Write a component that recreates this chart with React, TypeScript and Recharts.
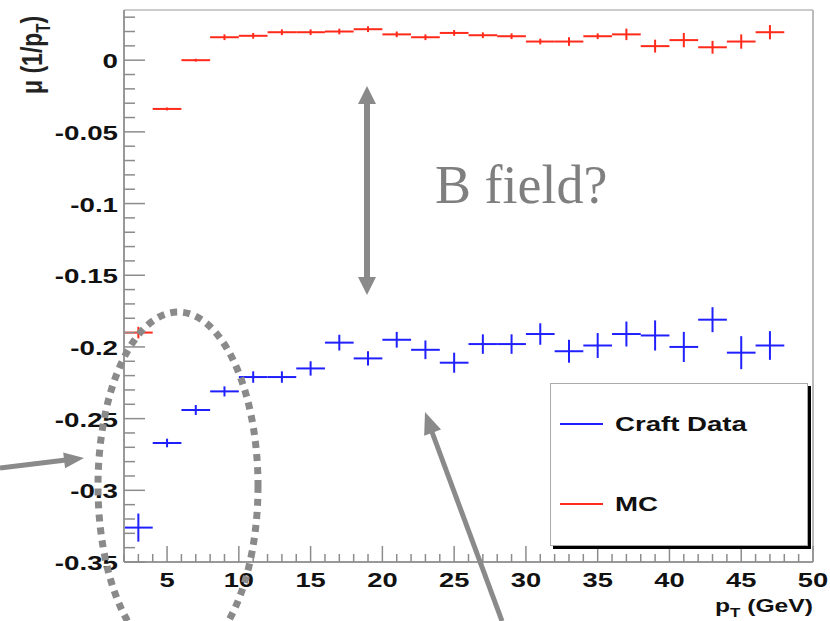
import React from "react";
import {
  ScatterChart,
  Scatter,
  XAxis,
  YAxis,
  ErrorBar,
  Legend,
  ReferenceLine
} from "recharts";

// bin centres in pT (GeV), each bin is 2 GeV wide
const ptBins = [3, 5, 7, 9, 11, 13, 15, 17, 19, 21, 23, 25, 27, 29, 31, 33, 35, 37, 39, 41, 43, 45, 47];
const binHalfWidth = 1;

const craftMu = [
  -0.326, -0.267, -0.244, -0.231, -0.221, -0.221, -0.215, -0.197, -0.208, -0.195, -0.202, -0.211,
  -0.198, -0.198, -0.191, -0.203, -0.199, -0.191, -0.192, -0.2, -0.181, -0.204, -0.199
];
const craftErr = [
  0.0098, 0.003, 0.0035, 0.0035, 0.004, 0.004, 0.005, 0.0055, 0.005, 0.0055, 0.0065, 0.007,
  0.0068, 0.0068, 0.0075, 0.008, 0.0087, 0.0087, 0.0105, 0.0105, 0.0087, 0.0115, 0.01
];

const mcMu = [
  -0.19, -0.034, 0.0, 0.016, 0.017, 0.0195, 0.0195, 0.02, 0.0216, 0.018, 0.016, 0.019,
  0.0174, 0.0167, 0.013, 0.013, 0.0167, 0.018, 0.0098, 0.014, 0.009, 0.013, 0.0195
];
const mcErr = [
  0.004, 0.001, 0.001, 0.002, 0.002, 0.002, 0.002, 0.002, 0.002, 0.002, 0.002, 0.002,
  0.002, 0.002, 0.002, 0.003, 0.002, 0.004, 0.0045, 0.005, 0.0045, 0.005, 0.005
];

const yMajorTicks = [-0.35, -0.3, -0.25, -0.2, -0.15, -0.1, -0.05, 0];
const yMajorLabels = ["-0.35", "-0.3", "-0.25", "-0.2", "-0.15", "-0.1", "-0.05", "0"];
const xMajorTicks = [5, 10, 15, 20, 25, 30, 35, 40, 45, 50];
const xMajorLabels = ["5", "10", "15", "20", "25", "30", "35", "40", "45", "50"];

const yDomain = [-0.35, 0.035];
const xDomain = [2, 50];

// minor ticks: every 0.01 on y, every 1 GeV on x
const yTicks = Array.from({ length: 39 }, (_, i) => (i - 35) / 100);
const xTicks = Array.from({ length: 49 }, (_, i) => i + 2);

const craftData = ptBins.map((pt, i) => ({ pt, mu: craftMu[i], ex: binHalfWidth, ey: craftErr[i] }));
const mcData = ptBins.map((pt, i) => ({ pt, mu: mcMu[i], ex: binHalfWidth, ey: mcErr[i] }));

const SANS = "'Liberation Sans', Arial, Helvetica, sans-serif";
const SERIF = "'Liberation Serif', 'Times New Roman', serif";
const TICK = "#8c8c8c";
const ANNOT = "#8a8a8a";

const majorIndex = (list: number[], v: number) => list.findIndex((m) => Math.abs(m - v) < 1e-9);

const YTick = (props: any) => {
  const { x, y, payload } = props;
  const idx = majorIndex(yMajorTicks, payload.value);
  const major = idx >= 0;
  return (
    <g>
      <line x1={x} x2={x + (major ? 21 : 11)} y1={y} y2={y} stroke={TICK} strokeWidth={1.5} />
      {major && (
        <text
          transform={`translate(${x - 6},${y + 8}) scale(1.32,1)`}
          textAnchor="end"
          fontFamily={SANS}
          fontSize={21}
          fontWeight="bold"
          fill="#111"
        >
          {yMajorLabels[idx]}
        </text>
      )}
    </g>
  );
};

const XTick = (props: any) => {
  const { x, y, payload } = props;
  const idx = majorIndex(xMajorTicks, payload.value);
  const major = idx >= 0;
  return (
    <g>
      <line x1={x} x2={x} y1={y} y2={y - (major ? 16 : 8)} stroke={TICK} strokeWidth={1.5} />
      {major && (
        <text
          transform={`translate(${x},${y + 25}) scale(1.3,1)`}
          textAnchor="middle"
          fontFamily={SANS}
          fontSize={21}
          fontWeight="bold"
          fill="#111"
        >
          {xMajorLabels[idx]}
        </text>
      )}
    </g>
  );
};

const LegendBox = ({ payload }: any) => (
  <div style={{
    width: 258, height: 163, background: "#fff", border: "1px solid #aaa",
    boxShadow: "3px 3px 0 #000", boxSizing: "border-box", position: "relative"
  }}>
    {(payload || []).map((entry: any, i: number) => (
      <div key={entry.value} style={{
        position: "absolute", left: 9, top: i === 0 ? 28 : 108, height: 24,
        display: "flex", alignItems: "center"
      }}>
        <div style={{ width: 43, height: 2, background: entry.color }} />
        <span style={{
          display: "inline-block", marginLeft: 12, fontFamily: SANS, fontSize: 20, fontWeight: "bold",
          color: "#111", transform: "scale(1.38,1)", transformOrigin: "left center", whiteSpace: "nowrap"
        }}>
          {entry.value}
        </span>
      </div>
    ))}
  </div>
);

const head = (tx: number, ty: number, fx: number, fy: number, len: number, hw: number) => {
  const d = Math.hypot(tx - fx, ty - fy);
  const ux = (tx - fx) / d;
  const uy = (ty - fy) / d;
  const bx = tx - ux * len;
  const by = ty - uy * len;
  return `${tx},${ty} ${bx - uy * hw},${by + ux * hw} ${bx + uy * hw},${by - ux * hw}`;
};

const Overlay = () => (
  <svg width={830} height={621} style={{ position: "absolute", left: 0, top: 0, pointerEvents: "none" }}>
    {/* axis titles */}
    <text transform="translate(42,94) rotate(-90) scale(1,1.3)" fontFamily={SANS} fontSize={23} fontWeight="bold" fill="#222">
      μ (1/p<tspan fontSize={15} dy={6}>T</tspan><tspan dy={-6}>)</tspan>
    </text>
    <text transform="translate(813,612) scale(1.3,1)" textAnchor="end" fontFamily={SANS} fontSize={19} fontWeight="bold" fill="#111">
      p<tspan fontSize={13} dy={5}>T</tspan><tspan dy={-5}> (GeV)</tspan>
    </text>

    <text x={435} y={203} fontFamily={SERIF} fontSize={54} fill="#7f7f7f">B field?</text>

    {/* double arrow */}
    <line x1={367} y1={100} x2={367} y2={281} stroke={ANNOT} strokeWidth={6} />
    <polygon points={head(367, 86, 367, 200, 18, 9)} fill={ANNOT} />
    <polygon points={head(367, 295, 367, 200, 18, 9)} fill={ANNOT} />

    {/* left arrow */}
    <line x1={0} y1={468} x2={66} y2={460} stroke={ANNOT} strokeWidth={5} />
    <polygon points={head(84, 458, 0, 468, 20, 8)} fill={ANNOT} />

    {/* bottom arrow */}
    <line x1={502} y1={621} x2={432} y2={432} stroke={ANNOT} strokeWidth={5} />
    <polygon points={head(425, 412, 502, 621, 22, 9)} fill={ANNOT} />

    <ellipse cx={178} cy={486} rx={80} ry={174} fill="none" stroke={ANNOT} strokeWidth={7} strokeDasharray="7 6" />
  </svg>
);

const App: React.FC = () => {
  return (
    <div style={{ position: "absolute", left: 0, top: 0, width: 830, height: 621, background: "#fff", fontFamily: SANS }}>
      <ScatterChart width={830} height={621} margin={{ top: 10, right: 17, bottom: 0, left: 0 }}>
        <XAxis
          type="number"
          dataKey="pt"
          domain={xDomain}
          ticks={xTicks}
          interval={0}
          tick={<XTick />}
          tickSize={0}
          tickMargin={0}
          height={59}
          axisLine={{ stroke: "#999", strokeWidth: 2 }}
          allowDataOverflow
        />
        <YAxis
          type="number"
          dataKey="mu"
          domain={yDomain}
          ticks={yTicks}
          interval={0}
          tick={<YTick />}
          tickSize={0}
          tickMargin={0}
          width={124}
          axisLine={{ stroke: "#999", strokeWidth: 2 }}
          allowDataOverflow
        />
        <ReferenceLine y={yDomain[1]} stroke="#ccc" strokeWidth={2} />
        <ReferenceLine x={xDomain[1]} stroke="#bbb" strokeWidth={2} />
        <Scatter name="Craft Data" data={craftData} fill="#2020ff" legendType="line" shape={() => <g />} isAnimationActive={false}>
          <ErrorBar dataKey="ex" direction="x" width={0} stroke="#2020ff" strokeWidth={2} isAnimationActive={false} />
          <ErrorBar dataKey="ey" direction="y" width={0} stroke="#2020ff" strokeWidth={2} isAnimationActive={false} />
        </Scatter>
        <Scatter name="MC" data={mcData} fill="#ff2a1a" legendType="line" shape={() => <g />} isAnimationActive={false}>
          <ErrorBar dataKey="ex" direction="x" width={0} stroke="#ff2a1a" strokeWidth={2} isAnimationActive={false} />
          <ErrorBar dataKey="ey" direction="y" width={0} stroke="#ff2a1a" strokeWidth={2} isAnimationActive={false} />
        </Scatter>
        <Legend
          layout="vertical"
          align="center"
          verticalAlign="middle"
          content={<LegendBox />}
          wrapperStyle={{ left: 550, top: 383, width: 258, height: 163 }}
        />
      </ScatterChart>
      <Overlay />
    </div>
  );
};

export default App;
